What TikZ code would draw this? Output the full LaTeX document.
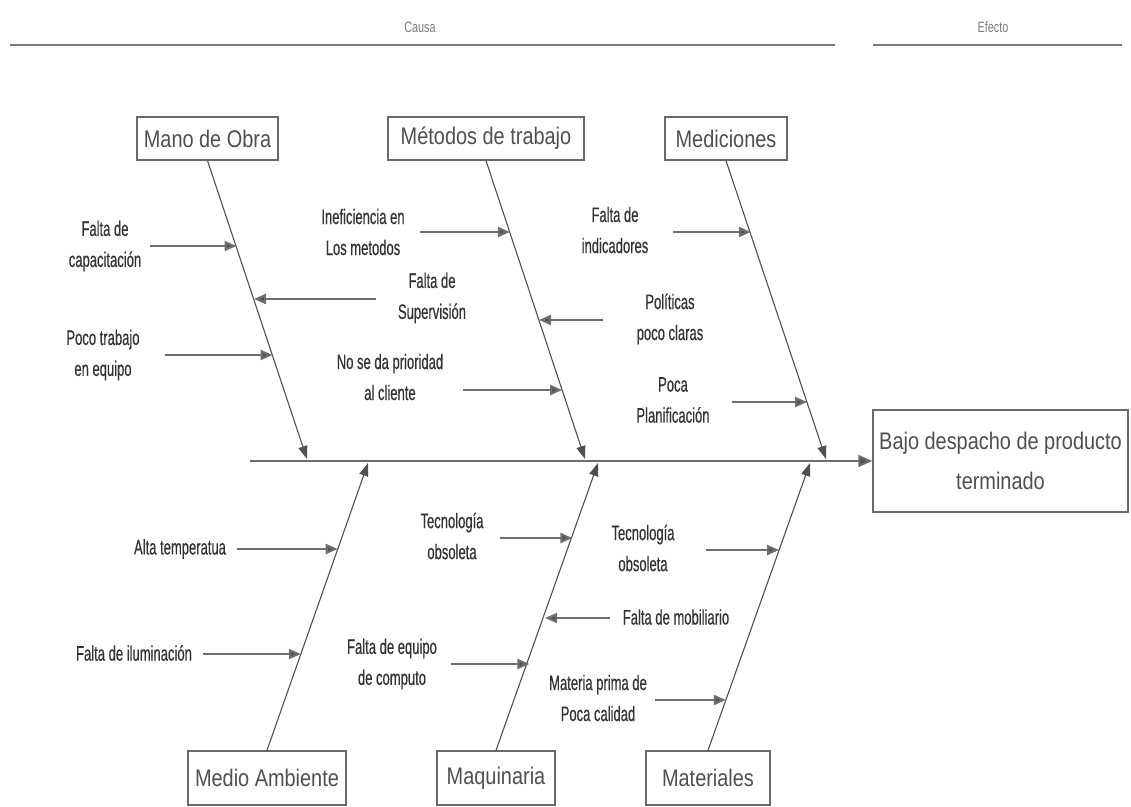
\documentclass[tikz,border=0pt]{standalone}
\usepackage{fontspec}
\usetikzlibrary{arrows.meta}
\newfontfamily\catfont[FakeStretch=0.83]{Liberation Sans}
\newfontfamily\lblfont[FakeStretch=0.62,FakeBold=0.4]{Liberation Sans}
\newfontfamily\hdrfont[FakeStretch=0.72]{Liberation Sans}
\definecolor{boxgray}{HTML}{6A6A6A}
\definecolor{bonegray}{HTML}{505050}
\definecolor{subgray}{HTML}{6E6E6E}
\definecolor{txtgray}{HTML}{333333}
\definecolor{catgray}{HTML}{505050}
\definecolor{hdrgray}{HTML}{7A7A7A}
\tikzset{
  catbox/.style={draw=boxgray, line width=1.4pt, fill=white, text=catgray,
    font=\catfont\fontsize{24}{28}\selectfont, inner sep=0pt},
  lbl/.style={text=txtgray, font=\lblfont\fontsize{21}{31}\selectfont,
    align=center, inner sep=0pt},
  hdr/.style={text=hdrgray, font=\hdrfont\fontsize{15}{18}\selectfont, inner sep=0pt},
  hdrline/.style={draw=hdrgray, line width=1.8pt},
  bone/.style={draw=bonegray, line width=1.1pt,
    -{Triangle[length=13pt,width=9pt,fill=bonegray]}},
  spine/.style={draw=subgray, line width=2pt,
    -{Triangle[length=14pt,width=12pt,fill=bonegray]}},
  sub/.style={draw=subgray, line width=2.2pt,
    -{Triangle[length=12pt,width=10pt,fill=bonegray]}}
}
\begin{document}
\begin{tikzpicture}[x=1pt,y=-1pt]
\path[use as bounding box] (0,0) rectangle (1131,806);

% header
\node[hdr] (causa) at (420,27) {Causa};
\node[hdr] (efecto) at (993,27) {Efecto};
\coordinate (cl1) at (10,45);  \coordinate (cl2) at (835,45);
\coordinate (el1) at (873,45); \coordinate (el2) at (1122,45);
\draw[hdrline] (cl1) -- (cl2);
\draw[hdrline] (el1) -- (el2);

% category boxes
\node[catbox, minimum width=141pt, minimum height=43pt] (mo)  at (207.5,138.5) {Mano de Obra};
\node[catbox, minimum width=196pt, minimum height=43pt] (met) at (486,138.5) {Métodos de trabajo};
\node[catbox, minimum width=122pt, minimum height=43pt] (med) at (726,138.5) {Mediciones};
\node[catbox, minimum width=158pt, minimum height=54pt] (ma)  at (267,778) {Medio Ambiente};
\node[catbox, minimum width=118pt, minimum height=54pt] (maq) at (496,778) {Maquinaria};
\node[catbox, minimum width=124pt, minimum height=54pt] (mat) at (708,778) {Materiales};

% effect
\node[catbox, minimum width=255pt, minimum height=102pt, align=center,
      font=\catfont\fontsize{24}{40}\selectfont] (eff) at (1000.5,461)
      {Bajo despacho de producto\\terminado};

% spine
\coordinate (sp) at (250,461);
\draw[spine] (sp) -- (eff.west);

% bone ends on the spine
\coordinate (moe)  at (307,459);
\coordinate (mete) at (585,459);
\coordinate (mede) at (826,459);
\coordinate (mae)  at (368,463);
\coordinate (maqe) at (598,463);
\coordinate (mate) at (810,463);
\draw[bone] (mo.south)  -- (moe);
\draw[bone] (met.south) -- (mete);
\draw[bone] (med.south) -- (mede);
\draw[bone] (ma.north)  -- (mae);
\draw[bone] (maq.north) -- (maqe);
\draw[bone] (mat.north) -- (mate);

% causes: Mano de Obra
\node[lbl] (c1) at (105,246) {Falta de\\capacitación};
\coordinate (t1) at (150,246); \coordinate (b1) at (236.5,246);
\draw[sub] (t1) -- (b1);
\node[lbl] (c2) at (432,298) {Falta de\\Supervisión};
\coordinate (t2) at (376,299); \coordinate (b2) at (254,299);
\draw[sub] (t2) -- (b2);
\node[lbl] (c3) at (103,355) {Poco trabajo\\en equipo};
\coordinate (t3) at (165,355); \coordinate (b3) at (272.6,355);
\draw[sub] (t3) -- (b3);

% causes: Métodos de trabajo
\node[lbl] (c4) at (363,232) {Ineficiencia en\\Los metodos};
\coordinate (t4) at (420,232); \coordinate (b4) at (509.8,232);
\draw[sub] (t4) -- (b4);
\node[lbl] (c5) at (670,319) {Políticas\\poco claras};
\coordinate (t5) at (603,320); \coordinate (b5) at (539,320);
\draw[sub] (t5) -- (b5);
\node[lbl] (c6) at (390,377) {No se da prioridad\\al cliente};
\coordinate (t6) at (463,390); \coordinate (b6) at (562.2,390);
\draw[sub] (t6) -- (b6);

% causes: Mediciones
\node[lbl] (c7) at (615,230) {Falta de\\indicadores};
\coordinate (t7) at (673,232); \coordinate (b7) at (750.8,232);
\draw[sub] (t7) -- (b7);
\node[lbl] (c8) at (673,400) {Poca\\Planificación};
\coordinate (t8) at (732,402); \coordinate (b8) at (807.1,402);
\draw[sub] (t8) -- (b8);

% causes: Medio Ambiente
\node[lbl] (c9) at (180,549) {Alta temperatua};
\coordinate (t9) at (237,549); \coordinate (b9) at (337.7,549);
\draw[sub] (t9) -- (b9);
\node[lbl] (c10) at (134,653) {Falta de iluminación};
\coordinate (t10) at (203,654); \coordinate (b10) at (300.8,654);
\draw[sub] (t10) -- (b10);

% causes: Maquinaria
\node[lbl] (c11) at (452,536) {Tecnología\\obsoleta};
\coordinate (t11) at (500,538); \coordinate (b11) at (572.4,538);
\draw[sub] (t11) -- (b11);
\node[lbl] (c12) at (676,617) {Falta de mobiliario};
\coordinate (t12) at (610,618); \coordinate (b12) at (545.1,618);
\draw[sub] (t12) -- (b12);
\node[lbl] (c13) at (392,664) {Falta de equipo\\de computo};
\coordinate (t13) at (451,664); \coordinate (b13) at (529.4,664);
\draw[sub] (t13) -- (b13);

% causes: Materiales
\node[lbl] (c14) at (643,548) {Tecnología\\obsoleta};
\coordinate (t14) at (706,550); \coordinate (b14) at (779.1,550);
\draw[sub] (t14) -- (b14);
\node[lbl] (c15) at (598,698) {Materia prima de\\Poca calidad};
\coordinate (t15) at (655,700); \coordinate (b15) at (725.8,700);
\draw[sub] (t15) -- (b15);
\end{tikzpicture}
\end{document}
